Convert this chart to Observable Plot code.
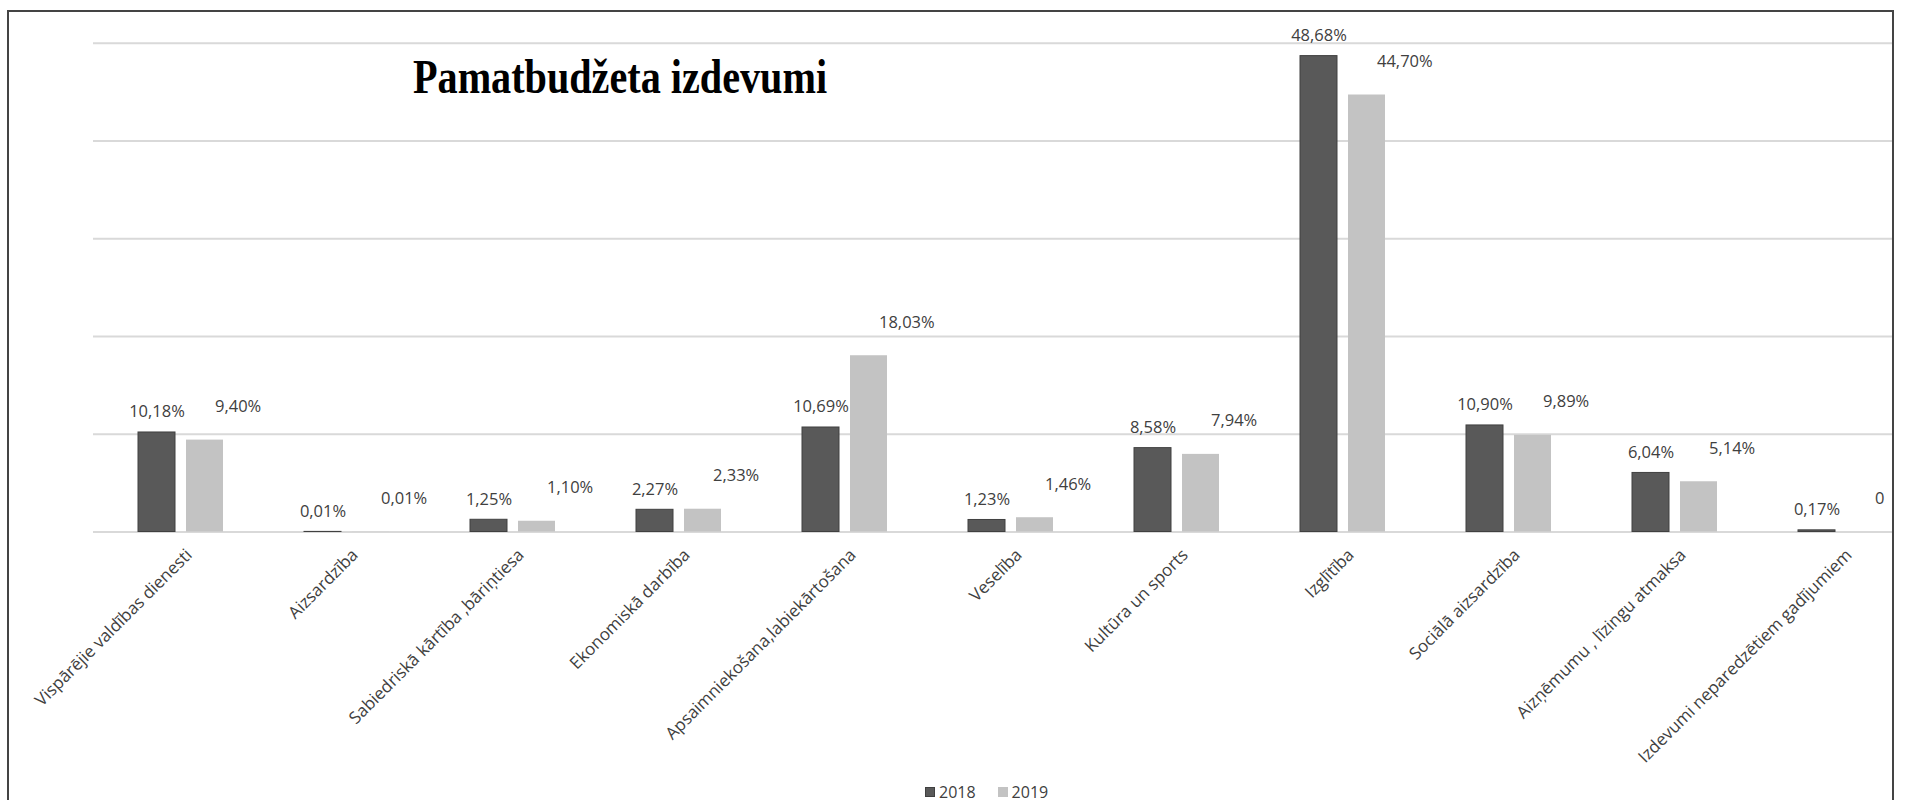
<!DOCTYPE html>
<html>
<head>
<meta charset="utf-8">
<script src="https://cdn.jsdelivr.net/npm/d3@7"></script>
<script src="https://cdn.jsdelivr.net/npm/@observablehq/plot@0.6"></script>
<style>
  html, body { margin: 0; padding: 0; background: #fff; overflow: hidden; width: 1909px; height: 800px; }
  #clip { position: absolute; left: 0; top: 0; width: 1893px; height: 800px; overflow: hidden; }
  #frame { position: absolute; left: 7.3px; top: 9.7px; width: 1887px; height: 900px; box-sizing: border-box;
           border: 2px solid #444; border-bottom: none; pointer-events: none; }
  #title { position: absolute; left: 413px; top: 52px; font-family: "Liberation Serif", "Times New Roman", serif;
           font-weight: bold; font-size: 49px; line-height: 49px; color: #000; white-space: nowrap;
           transform: scaleX(0.82); transform-origin: left top; }
  #legend { position: absolute; top: 784px; left: 925px; font-family: "Open Sans", sans-serif; font-size: 16px;
            line-height: 16px; color: #404040; white-space: nowrap; display: flex; align-items: center; }
  #legend .sw { display: inline-block; width: 10px; height: 10px; margin-right: 4px; }
  #legend .item { display: inline-flex; align-items: center; margin-right: 22px; }
</style>
</head>
<body>
<div id="clip"></div>
<div id="frame"></div>
<div id="title">Pamatbudžeta izdevumi</div>
<div id="legend"></div>
<script>
// ---- data ----
const categories = [
  "Vispārējie valdības dienesti",
  "Aizsardzība",
  "Sabiedriskā kārtība ,bāriņtiesa",
  "Ekonomiskā darbība",
  "Apsaimniekošana,labiekārtošana",
  "Veselība",
  "Kultūra un sports",
  "Izglītība",
  "Sociālā aizsardzība",
  "Aizņēmumu , līzingu atmaksa",
  "Izdevumi neparedzētiem gadījumiem"
];
const series = ["2018", "2019"];
const values2018 = [10.18, 0.01, 1.25, 2.27, 10.69, 1.23, 8.58, 48.68, 10.90, 6.04, 0.17];
const values2019 = [9.40, 0.01, 1.10, 2.33, 18.03, 1.46, 7.94, 44.70, 9.89, 5.14, 0];
const yTicks = [0, 10, 20, 30, 40, 50];
const colors = ["#595959", "#c3c3c3"];

const fmt = v => v === 0 ? "0" : v.toFixed(2).replace(".", ",") + "%";
const d2018 = categories.map((c, i) => ({cat: c, value: values2018[i], label: fmt(values2018[i])}));
const d2019 = categories.map((c, i) => ({cat: c, value: values2019[i], label: fmt(values2019[i])}));

const font = "'Open Sans', sans-serif";

const chart = Plot.plot({
  width: 1929,
  height: 800,
  marginLeft: 93,
  marginRight: 0,
  marginTop: 42.7,
  marginBottom: 268.5,
  style: {maxWidth: "none", fontFamily: font, background: "transparent"},
  x: {type: "band", domain: categories, paddingInner: 0.776, paddingOuter: 0.388, axis: null},
  y: {domain: [0, 50], axis: null},
  marks: [
    Plot.ruleY(yTicks, {stroke: "#d9d9d9", strokeWidth: 2}),
    Plot.barY(d2018, {x: "cat", y: "value", fill: colors[0], stroke: "#404040", strokeWidth: 1, dx: -24}),
    Plot.barY(d2019, {x: "cat", y: "value", fill: colors[1], dx: 24}),
    Plot.text(d2018, {x: "cat", y: "value", text: "label", dx: -24, dy: -15, lineAnchor: "bottom",
      fontSize: 16.5, fill: "#404040"}),
    Plot.text(d2019, {x: "cat", y: "value", text: "label", dx: 34, dy: -28, lineAnchor: "bottom",
      textAnchor: "start", fontSize: 16.5, fill: "#404040"}),
    Plot.text(categories, {x: d => d, frameAnchor: "bottom", rotate: -45, textAnchor: "end",
      dx: 12, dy: 24, fontSize: 17, fill: "#404040"})
  ]
});
document.getElementById("clip").appendChild(chart);

const legend = document.getElementById("legend");
series.forEach((s, i) => {
  const item = document.createElement("span");
  item.className = "item";
  const sw = document.createElement("span");
  sw.className = "sw";
  sw.style.background = colors[i];
  if (i === 0) sw.style.outline = "1px solid #404040", sw.style.outlineOffset = "-1px";
  item.appendChild(sw);
  item.appendChild(document.createTextNode(s));
  legend.appendChild(item);
});
</script>
</body>
</html>
